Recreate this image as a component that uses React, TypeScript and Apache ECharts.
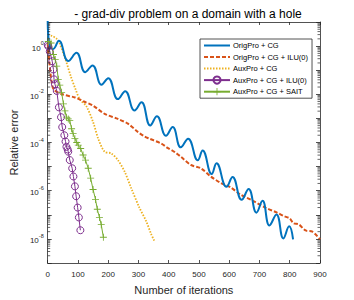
import React, { useEffect, useRef } from "react";
import * as echarts from "echarts";

// log10(relative error), as [iteration, log10(error)]
const origCG: [number, number][] = [
  [0, 1.1], [2, 0.45], [8, 0.0], [18, -0.12], [37, 0.22], [68, -0.62], [95, -0.28],
  [124, -1.08], [148, -0.8], [178, -1.6], [200, -1.33], [232, -2.2], [256, -1.87],
  [287, -2.67], [310, -2.33], [339, -3.29], [361, -2.91], [391, -3.72], [413, -3.36],
  [440, -4.2], [464, -3.84], [496, -4.74], [512, -4.33], [542, -5.31], [558, -4.86],
  [591, -5.84], [611, -5.43], [641, -6.38], [664, -5.93], [690, -6.91], [710, -6.42],
  [733, -7.44], [756, -6.99], [779, -7.98], [798, -7.48], [811, -8.02],
];
const origCGILU: [number, number][] = [
  [0, 0.1], [5, -0.6], [12, -1.4], [20, -1.8], [46, -1.99], [90, -2.13], [120, -2.3],
  [150, -2.47], [188, -2.81], [232, -3.02], [265, -3.22], [298, -3.56], [320, -3.75],
  [336, -3.84], [375, -4.04], [396, -4.22], [420, -4.4], [440, -4.59], [473, -4.93],
  [506, -5.07], [539, -5.41], [572, -5.68], [604, -5.86], [637, -6.16], [680, -6.43],
  [719, -6.7], [758, -6.91], [780, -7.05], [800, -7.15], [812, -7.35], [830, -7.4],
  [852, -7.65], [875, -7.7], [900, -8.02],
];
const auxCG: [number, number][] = [
  [0, 0.45], [15, 0.42], [30, 0.3], [37, 0.19], [59, -0.56], [76, -1.24], [92, -1.79],
  [106, -2.2], [128, -2.5], [150, -3.15], [167, -3.84], [188, -4.38], [210, -4.45],
  [232, -4.73], [254, -5.2], [276, -5.89], [303, -6.7], [325, -7.25], [342, -7.8], [352, -8.07],
];
const auxCGILU: [number, number][] = [
  [0, 0.05], [2, -0.01], [7, -0.23], [15, -0.63], [19, -0.97], [21, -1.38], [24, -1.58],
  [30, -1.86], [37, -2.54], [44, -2.95], [48, -3.36], [55, -3.7], [59, -3.96], [62, -4.18],
  [66, -4.29], [68, -4.38], [73, -4.73], [81, -5.07], [85, -5.41], [90, -5.82], [94, -6.23],
  [99, -6.7], [103, -7.11], [108, -7.64],
];
const auxCGSAIT: [number, number][] = [
  [2, 0.19], [11, 0.13], [19, -0.35], [25, -0.56], [30, -0.83], [35, -1.38], [40, -1.62],
  [46, -1.92], [52, -2.4], [57, -2.69], [62, -2.95], [68, -3.02], [73, -3.09], [79, -3.43],
  [84, -3.63], [90, -3.84], [96, -4.0], [101, -4.11], [109, -4.25], [117, -4.52], [125, -4.73],
  [134, -5.07], [142, -5.48], [150, -5.95], [158, -6.36], [164, -6.77], [171, -7.11],
  [177, -7.41], [184, -7.93],
];

const seriesNames = [
  "OrigPro + CG",
  "OrigPro + CG + ILU(0)",
  "AuxPro + CG",
  "AuxPro + CG + ILU(0)",
  "AuxPro + CG + SAIT",
];
const colors = ["#0072BD", "#D95319", "#EDB120", "#7E2F8E", "#77AC30"];
const xTickValues = [0, 100, 200, 300, 400, 500, 600, 700, 800, 900];

const toPts = (a: [number, number][]) => a.map(([x, l]) => [x, Math.pow(10, l)]);

const minorTicks: number[][] = [];
for (let n = -9; n < 1; n++) {
  for (let k = 2; k <= 9; k++) minorTicks.push([0, k * Math.pow(10, n)]);
}

const FONT = "Liberation Sans, Arial, sans-serif";
const AX = "#262626";
const PLUS = "path://M4.4,0H5.6V4.4H10V5.6H5.6V10H4.4V5.6H0V4.4H4.4Z";
const HIDE = { color: "rgba(0,0,0,0)", borderColor: "rgba(0,0,0,0)", borderWidth: 0 };

export default function App() {
  const ref = useRef<HTMLDivElement>(null);
  useEffect(() => {
    const chart = echarts.init(ref.current!, undefined, { renderer: "svg" });
    const logLabel = (v: number) => {
      const e = Math.round(Math.log10(v));
      if (e % 2 !== 0 || e > 0) return "";
      return "{b|10}{s|" + e + "}";
    };
    const baseX = {
      type: "value",
      min: 0,
      max: 900,
      interval: 100,
      splitLine: { show: false },
      axisLine: { show: true, onZero: false, lineStyle: { color: AX, width: 0.8 } },
      axisTick: { show: true, inside: true, length: 3, lineStyle: { color: AX, width: 0.8 } },
    };
    const baseY = {
      type: "log",
      logBase: 10,
      min: 1e-9,
      max: 10,
      splitNumber: 10,
      splitLine: { show: false },
      axisLine: { show: true, onZero: false, lineStyle: { color: AX, width: 0.8 } },
      axisTick: { show: true, inside: true, length: 4, lineStyle: { color: AX, width: 0.8 } },
    };
    chart.setOption({
      animation: false,
      backgroundColor: "#fff",
      textStyle: { fontFamily: FONT },
      title: {
        text: "- grad-div problem on a domain with a hole",
        left: 183,
        textAlign: "center",
        top: 3,
        textStyle: { fontSize: 12, fontWeight: "normal", color: "#000", fontFamily: FONT },
      },
      grid: { left: 46, right: 34, top: 22, bottom: 34 },
      legend: {
        data: [
          { name: seriesNames[0], itemStyle: HIDE },
          { name: seriesNames[1], itemStyle: HIDE },
          { name: seriesNames[2], itemStyle: HIDE },
          { name: seriesNames[3] },
          { name: seriesNames[4] },
        ],
        orient: "vertical",
        left: 200,
        top: 39,
        padding: [2, 4, 2, 3],
        itemGap: 2.5,
        itemWidth: 26,
        itemHeight: 9,
        backgroundColor: "#fff",
        borderColor: AX,
        borderWidth: 0.8,
        borderRadius: 0,
        textStyle: { fontSize: 7.5, color: "#000", fontFamily: FONT, lineHeight: 9, padding: [0, 0, 0, -2] },
      },
      xAxis: [
        {
          ...baseX,
          position: "bottom",
          name: "Number of iterations",
          nameLocation: "middle",
          nameGap: 21,
          nameTextStyle: { fontSize: 11, color: AX, fontFamily: FONT },
          axisLabel: {
            fontSize: 8,
            color: AX,
            margin: 7,
            formatter: (v: number) => (xTickValues.includes(v) ? String(v) : ""),
          },
        },
        { ...baseX, position: "top", axisLabel: { show: false } },
      ],
      yAxis: [
        {
          ...baseY,
          position: "left",
          name: "Relative error",
          nameLocation: "middle",
          nameGap: 19,
          nameTextStyle: { fontSize: 11, color: AX, fontFamily: FONT },
          axisLabel: {
            color: AX,
            margin: 4,
            formatter: logLabel,
            rich: {
              b: { fontSize: 8, color: AX, fontFamily: FONT, lineHeight: 12, verticalAlign: "bottom" },
              s: { fontSize: 5.5, color: AX, fontFamily: FONT, lineHeight: 12, verticalAlign: "top" },
            },
          },
        },
        { ...baseY, position: "right", axisLabel: { show: false } },
      ],
      series: [
        {
          name: seriesNames[0],
          type: "line",
          data: toPts(origCG),
          smooth: 0.45,
          symbol: "none",
          color: colors[0],
          lineStyle: { color: colors[0], width: 2 },
          z: 5,
        },
        {
          name: seriesNames[1],
          type: "line",
          data: toPts(origCGILU),
          smooth: 0.3,
          symbol: "none",
          color: colors[1],
          lineStyle: { color: colors[1], width: 2, type: [4, 2] },
          z: 4,
        },
        {
          name: seriesNames[2],
          type: "line",
          data: toPts(auxCG),
          smooth: 0.3,
          symbol: "none",
          color: colors[2],
          lineStyle: { color: colors[2], width: 1.8, type: [1.5, 1.5] },
          z: 3,
        },
        {
          name: seriesNames[3],
          type: "line",
          data: toPts(auxCGILU),
          symbol: "circle",
          symbolSize: 7,
          showAllSymbol: true,
          color: colors[3],
          itemStyle: { color: "rgba(0,0,0,0)", borderColor: colors[3], borderWidth: 1 },
          lineStyle: { color: colors[3], width: 1 },
          z: 6,
        },
        {
          name: seriesNames[4],
          type: "line",
          data: toPts(auxCGSAIT),
          symbol: PLUS,
          symbolSize: 7,
          showAllSymbol: true,
          color: colors[4],
          itemStyle: { color: colors[4] },
          lineStyle: { color: colors[4], width: 1 },
          z: 6,
        },
        {
          type: "custom",
          silent: true,
          data: minorTicks,
          renderItem: (params: any, api: any) => {
            const y = api.coord([0, api.value(1)])[1];
            const cs = params.coordSys;
            const st = { stroke: AX, lineWidth: 0.7 };
            return {
              type: "group",
              children: [
                { type: "line", shape: { x1: cs.x, y1: y, x2: cs.x + 2.5, y2: y }, style: st },
                { type: "line", shape: { x1: cs.x + cs.width, y1: y, x2: cs.x + cs.width - 2.5, y2: y }, style: st },
              ],
            };
          },
          z: 10,
        },
      ],
    });
    return () => chart.dispose();
  }, []);
  return <div ref={ref} style={{ width: 354, height: 300, position: "absolute", left: 0, top: 0 }} />;
}
